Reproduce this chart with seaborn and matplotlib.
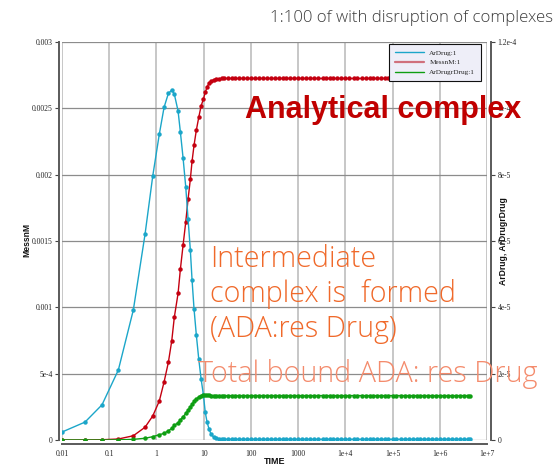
import matplotlib
matplotlib.use("Agg")
import matplotlib.pyplot as plt
from matplotlib.lines import Line2D
import pandas as pd
import seaborn as sns

# ---- simulation output (shared time grid) ----
time_rise = [0.01, 0.0307, 0.0703, 0.156, 0.324, 0.573, 0.835, 1.15, 1.45, 1.79,
             2.11, 2.39, 2.87, 3.21, 3.66, 4.18, 4.67, 5.22, 5.68, 6.26,
             7.00, 7.87, 8.81, 9.87, 10.8, 11.8, 13.0, 14.3, 16.2, 18.3,
             21.2, 24.5]
time_tail = [27, 33, 39, 47, 56, 68, 82,
             100, 120, 150, 180, 220, 270, 330, 390, 470, 560, 680, 820,
             1e3, 1.2e3, 1.5e3, 1.8e3, 2.2e3, 2.7e3, 3.3e3, 3.9e3, 4.7e3, 5.6e3, 6.8e3, 8.2e3,
             1e4, 1.2e4, 1.5e4, 1.8e4, 2.2e4, 2.7e4, 3.3e4, 3.9e4, 4.7e4, 5.6e4, 6.8e4, 8.2e4,
             1e5, 1.2e5, 1.5e5, 1.8e5, 2.2e5, 2.7e5, 3.3e5, 3.9e5, 4.7e5, 5.6e5, 6.8e5, 8.2e5,
             1e6, 1.2e6, 1.5e6, 1.8e6, 2.2e6, 2.7e6, 3.3e6, 3.9e6, 4.4e6]

# MessnM (left axis)
messn_rise = [0, 5e-7, 2e-6, 7.5e-6, 3.2e-5, 9.6e-5, 1.81e-4, 2.94e-4, 4.37e-4, 5.86e-4,
              7.48e-4, 9.25e-4, 1.105e-3, 1.286e-3, 1.467e-3, 1.645e-3, 1.814e-3, 1.965e-3, 2.102e-3, 2.223e-3,
              2.336e-3, 2.432e-3, 2.517e-3, 2.570e-3, 2.620e-3, 2.660e-3, 2.690e-3, 2.705e-3, 2.715e-3, 2.720e-3,
              2.723e-3, 2.725e-3]
messn_plateau = 2.725e-3

# ArDrug (right axis)
ardrug_rise = [2.4e-6, 5.4e-6, 1.06e-5, 2.11e-5, 3.92e-5, 6.20e-5, 7.96e-5, 9.22e-5, 1.003e-4, 1.045e-4,
               1.055e-4, 1.043e-4, 9.92e-5, 9.29e-5, 8.51e-5, 7.62e-5, 6.67e-5, 5.73e-5, 4.82e-5, 3.94e-5,
               3.16e-5, 2.44e-5, 1.85e-5, 1.36e-5, 8.4e-6, 5.4e-6, 3.3e-6, 1.8e-6, 9e-7, 5e-7,
               3e-7, 2.4e-7]
ardrug_plateau = 2e-7

# ArDrugrDrug (right axis)
ardrugr_rise = [0, 0, 0, 4e-8, 2e-7, 5.2e-7, 1.0e-6, 1.6e-6, 2.0e-6, 2.8e-6,
                3.5e-6, 4.4e-6, 5.2e-6, 6.1e-6, 7.0e-6, 8.0e-6, 9.0e-6, 1.0e-5, 1.08e-5, 1.17e-5,
                1.24e-5, 1.30e-5, 1.33e-5, 1.35e-5, 1.35e-5, 1.35e-5, 1.35e-5, 1.34e-5, 1.34e-5, 1.34e-5,
                1.34e-5, 1.34e-5]
ardrugr_plateau = 1.34e-5

x_ticks = [0.01, 0.1, 1, 10, 100, 1000, 1e4, 1e5, 1e6, 1e7]
x_labels = ["0.01", "0.1", "1", "10", "100", "1000", "1e+4", "1e+5", "1e+6", "1e+7"]
left_ticks = [0, 5e-4, 0.001, 0.0015, 0.002, 0.0025, 0.003]
left_labels = ["0", "5e-4", "0.001", "0.0015", "0.002", "0.0025", "0.003"]
right_ticks = [0, 2e-5, 4e-5, 6e-5, 8e-5, 1e-4, 1.2e-4]
right_labels = ["0", "2e-5", "4e-5", "6e-5", "8e-5", "1e-4", "1.2e-4"]

time = time_rise + time_tail
n_tail = len(time_tail)
df = pd.DataFrame({
    "TIME": time,
    "MessnM": messn_rise + [messn_plateau] * n_tail,
    "ArDrug": ardrug_rise + [ardrug_plateau] * n_tail,
    "ArDrugrDrug": ardrugr_rise + [ardrugr_plateau] * n_tail,
})

C_BLUE = "#1ba6c9"
C_RED = "#c40010"
C_GREEN = "#0e9e12"

sns.set_style("white")
plt.rcParams["font.family"] = ["DejaVu Sans"]

W, H = 560, 467
fig = plt.figure(figsize=(W / 100, H / 100), dpi=100)
ax = fig.add_axes([62 / W, 1 - 440 / H, (487 - 62) / W, (440 - 42) / H])
ax2 = ax.twinx()

line_kw = dict(marker="o", markersize=3.2, markeredgewidth=0, linewidth=1.0,
               estimator=None, sort=False, legend=False)
sns.lineplot(data=df, x="TIME", y="MessnM", color=C_RED, ax=ax, **line_kw)
sns.lineplot(data=df, x="TIME", y="ArDrug", color=C_BLUE, ax=ax2, **line_kw)
sns.lineplot(data=df, x="TIME", y="ArDrugrDrug", color=C_GREEN, ax=ax2, **line_kw)

ax.set_xscale("log")
ax.set_xlim(0.01, 1e7)
ax.set_ylim(0, 0.003)
ax2.set_ylim(0, 1.2e-4)

ax.set_xticks(x_ticks)
ax.set_xticklabels(x_labels)
ax.xaxis.set_minor_locator(matplotlib.ticker.NullLocator())
ax.set_yticks(left_ticks)
ax.set_yticklabels(left_labels)
ax2.set_yticks(right_ticks)
ax2.set_yticklabels(right_labels)

for a in (ax, ax2):
    a.set_xlabel("")
    a.set_ylabel("")
    a.tick_params(axis="both", which="major", length=3, width=0.8, color="#444444", pad=1.5,
                  labelsize=5.5, labelcolor="#222222", labelfontfamily="Liberation Serif")
    a.spines["top"].set_visible(False)
    for s in ("left", "right", "bottom"):
        a.spines[s].set_color("#5a5a5a")
        a.spines[s].set_linewidth(1.4)
    a.spines["left"].set_position(("outward", 2))
    a.spines["right"].set_position(("outward", 3))
    a.spines["bottom"].set_position(("outward", 3))
ax.spines["right"].set_visible(False)
ax2.spines["left"].set_visible(False)
ax2.spines["bottom"].set_visible(False)

ax.set_axisbelow(True)
ax.grid(axis="x", which="major", color="#bdbdbd", linewidth=1.2)
ax.grid(axis="y", which="major", color="#8c8c8c", linewidth=0.9)

# legend
handles = [Line2D([], [], color=C_BLUE, lw=1.0),
           Line2D([], [], color="#d0707c", lw=1.6),
           Line2D([], [], color=C_GREEN, lw=1.0)]
leg = ax2.legend(handles, ["ArDrug:1", "MessnM:1", "ArDrugrDrug:1"],
                 loc="upper right", bbox_to_anchor=(0.986, 0.995), borderaxespad=0,
                 prop=dict(family="Liberation Serif", size=5.2),
                 frameon=True, fancybox=False, handlelength=4.0, handletextpad=0.8,
                 labelspacing=0.5, borderpad=0.8)
leg.get_frame().set_facecolor("#eeeef8")
leg.get_frame().set_edgecolor("#111111")
leg.get_frame().set_linewidth(0.8)
leg.get_frame().set_alpha(1)

def px(x, y):
    return x / W, 1 - y / H

# axis titles
fig.text(*px(27, 240), "MessnM", rotation=90, ha="center", va="center",
         fontsize=6.2, fontweight="bold", family="Liberation Sans", color="#111111")
fig.text(*px(503, 241), "ArDrug, ArDrugrDrug", rotation=90, ha="center", va="center",
         fontsize=6.2, fontweight="bold", family="Liberation Sans", color="#111111")
fig.text(*px(275, 461), "TIME", ha="center", va="center",
         fontsize=6.5, fontweight="bold", family="Liberation Sans", color="#111111")

# headline and annotations
fig.text(*px(553, 18), "1:100 of with disruption of complexes", ha="right", va="center",
         fontsize=12.1, family="Open Sans", fontweight="light", color="#3c3c3c")
fig.text(*px(245, 110), "Analytical complex", ha="left", va="center",
         fontsize=22, fontweight="bold", family="Liberation Sans", color="#c00000", zorder=10)
for txt, yy in (("Intermediate", 259), ("complex is  formed", 294), ("(ADA:res Drug)", 329)):
    fig.text(*px(210, yy), txt, ha="left", va="center", fontsize=20.7,
             family="Open Sans", fontweight="light", color="#f0692a", zorder=10)
fig.text(*px(198, 374), "Total bound ADA: res Drug", ha="left", va="center", fontsize=20.7,
         family="Open Sans", fontweight="light", color="#f48b6c", zorder=10)

fig.savefig("out.png", dpi=100)
